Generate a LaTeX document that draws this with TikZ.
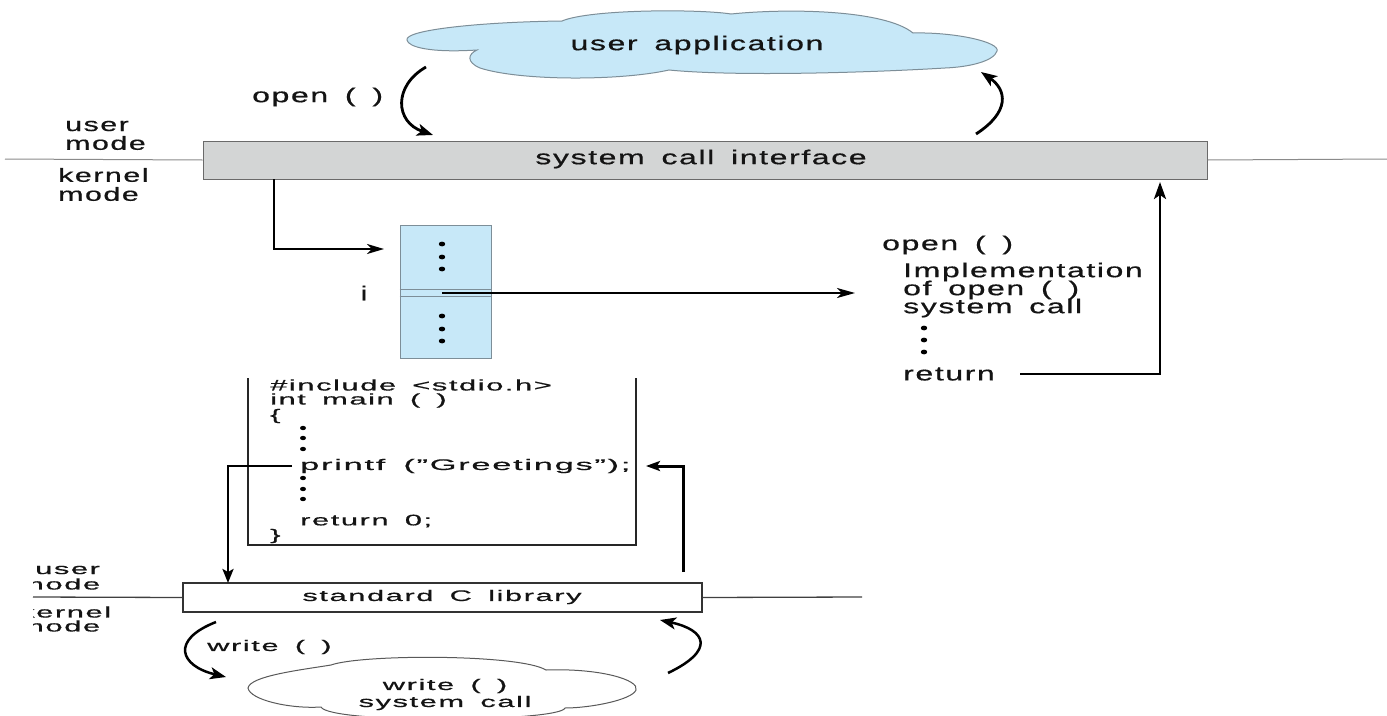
\documentclass[tikz,border=0pt]{standalone}
\usepackage{fontspec}
\usepackage{graphicx}
\setmainfont{Liberation Sans}[LetterSpace=5,WordSpace=1.6,FakeBold=0.5]
\usetikzlibrary{arrows.meta}
\newcommand{\sxa}[1]{\scalebox{1.6}[1]{#1}}
\newcommand{\sxb}[1]{\scalebox{2.02}[1]{#1}}
\definecolor{cloudblue}{HTML}{C7E8F8}
\definecolor{cloudline}{HTML}{7D8E98}
\definecolor{boxgray}{HTML}{D3D5D5}
\definecolor{boxline}{HTML}{6A6A6A}
\definecolor{sepline}{HTML}{8A8A8A}
\begin{document}
\begin{tikzpicture}[x=1pt,y=-1pt,
  ta/.style={inner sep=0pt, font=\fontsize{20}{20}\selectfont, text=black!92},
  tm/.style={inner sep=0pt, font=\fontsize{19}{19}\selectfont, text=black!92},
  tb/.style={inner sep=0pt, font=\fontsize{15.3}{15.3}\selectfont, text=black!92},
  sep/.style={draw=sepline, line width=1pt},
  mid arrow/.style={line width=2.2pt, -{Stealth[length=17pt,width=10pt,inset=5pt]}},
  thin arrow/.style={line width=1.6pt, -{Stealth[length=18pt,width=10pt,inset=5pt]}},
  curve arrow/.style={line width=2.8pt, -{Stealth[length=16pt,width=12pt,inset=4pt]}},
  dot/.style={fill=black, draw=none}]
\useasboundingbox (0,0) rectangle (1387,715);

% ---------- top part ----------
% user application cloud
\draw[fill=cloudblue, draw=cloudline, line width=1pt]
  (407,40) .. controls (404,30) and (480,22) .. (562,21)
  .. controls (590,9) and (700,9) .. (731,14)
  .. controls (790,8) and (885,10) .. (913,33)
  .. controls (955,32) and (1000,42) .. (997,51)
  .. controls (994,61) and (970,67) .. (945,68)
  .. controls (880,72) and (740,77) .. (669,70)
  .. controls (620,81) and (520,81) .. (480,68)
  .. controls (466,62) and (468,54) .. (477,50)
  .. controls (430,53) and (408,47) .. (407,40) -- cycle;
\node[ta] (ua) at (697,45) {\sxa{user application}};

% mode separator
\node[draw=boxline, fill=boxgray, line width=1pt, minimum width=1004pt, minimum height=38pt, inner sep=0pt] (sci) at (705,160) {};
\node[ta] (scit) at (701,159) {\sxa{system call interface}};
\draw[sep] (5,159) -- (sci.west);
\draw[sep] (sci.east) -- (1387,159);

\node[tm, anchor=west] (um1) at (65,126) {\sxa{user}};
\node[tm, anchor=west] (um2) at (65,143) {\sxa{mode}};
\node[tm, anchor=west] (km1) at (58,175) {\sxa{kernel}};
\node[tm, anchor=west] (km2) at (58,194) {\sxa{mode}};

% open () call arrows
\node[ta, anchor=west] (openl) at (252,97) {\sxa{open ( )}};
\coordinate (oa1) at (426,67);
\coordinate (oa2) at (433,135);
\draw[curve arrow] (oa1) .. controls (393,86) and (395,122) .. (oa2);
\coordinate (ra1) at (976,134);
\coordinate (ra2) at (981,72);
\draw[curve arrow] (ra1) .. controls (1010,112) and (1007,90) .. (ra2);

% system call table
\node[draw=cloudline, fill=cloudblue, line width=1pt, minimum width=91pt, minimum height=133pt, inner sep=0pt] (tbl) at (445.5,291.5) {};
\draw[draw=cloudline, line width=0.8pt] (tbl.west |- 0,289) -- (tbl.east |- 0,289);
\draw[draw=cloudline, line width=0.8pt] (tbl.west |- 0,296) -- (tbl.east |- 0,296);
\foreach \yy in {244,257,269,316,329,341}
  \fill[dot] (442,\yy) ellipse (3.2pt and 2.4pt);
\node[ta] (ilab) at (364,293) {\sxa{i}};

% arrow from interface into table
\coordinate (sc1) at (274,179);
\coordinate (sc2) at (274,249);
\coordinate (sc3) at (384,249);
\draw[mid arrow] (sc1) -- (sc2) -- (sc3);

% arrow from table entry to implementation
\coordinate (te) at (442,293);
\coordinate (impl) at (855,293);
\draw[thin arrow] (te) -- (impl);

% implementation text
\node[ta, anchor=west] (op2) at (882,245) {\sxa{open ( )}};
\node[ta, anchor=west] (im1) at (903,272) {\sxa{Implementation}};
\node[ta, anchor=west] (im2) at (903,290) {\sxa{of open ( )}};
\node[ta, anchor=west] (im3) at (903,308) {\sxa{system call}};
\foreach \yy in {328,340,352}
  \fill[dot] (924,\yy) ellipse (3.2pt and 2.4pt);
\node[ta, anchor=west] (ret) at (903,374) {\sxa{return}};

% return arrow
\coordinate (rt1) at (1020,374);
\coordinate (rt2) at (1160,374);
\coordinate (rt3) at (1160,182);
\draw[line width=2.8pt, -{Stealth[length=17pt,width=12pt,inset=4pt]}] (rt1) -- (rt2) -- (rt3);

% ---------- bottom part ----------
% code box (open top)
\coordinate (cb1) at (248,378);
\coordinate (cb2) at (248,545);
\coordinate (cb3) at (636,545);
\coordinate (cb4) at (636,378);
\draw[line width=1.6pt, draw=black!85] (cb1) -- (cb2) -- (cb3) -- (cb4);

\node[tb, anchor=west] (c1) at (270,385) {\sxb{\#include <stdio.h>}};
\node[tb, anchor=west] (c2) at (270,400.5) {\sxb{int main ( )}};
\node[tb, anchor=west] (c3) at (270,416) {\sxb{\{}};
\foreach \yy in {428,438,449,478,489,499}
  \fill[dot] (303,\yy) ellipse (3pt and 2.2pt);
\node[tb, anchor=west] (c4) at (300,466) {\scalebox{2.25}[1]{printf ("Greetings");}};
\node[tb, anchor=west] (c5) at (300,521) {\sxb{return 0;}};
\node[tb, anchor=west] (c6) at (270,536) {\sxb{\}}};

% standard C library
\node[draw=black!80, fill=white, line width=1.3pt, minimum width=519pt, minimum height=29pt, inner sep=0pt] (scl) at (442.5,597.5) {};
\node[tb] (sclt) at (442,597) {\sxb{standard C library}};
\draw[line width=1.3pt, draw=black!75] (33,597) -- (scl.west);
\draw[line width=1.3pt, draw=black!75] (scl.east) -- (862,597);

% printf -> library
\coordinate (pf1) at (292,466);
\coordinate (pf2) at (228,466);
\coordinate (pf3) at (228,583);
\draw[line width=2.6pt, -{Stealth[length=14pt,width=11pt,inset=3pt]}] (pf1) -- (pf2) -- (pf3);
% library -> back to printf
\coordinate (lb1) at (683,572);
\coordinate (lb2) at (683,466);
\coordinate (lb3) at (646,466);
\draw[line width=3pt, -{Stealth[length=14pt,width=10pt,inset=3pt]}] (lb1) -- (lb2) -- (lb3);

% bottom-left mode labels (cut at the left)
\begin{scope}
  \clip (33,550) rectangle (200,645);
  \node[tb, anchor=west] (bu1) at (35,570) {\sxb{user}};
  \node[tb, anchor=west] (bu2) at (18,584) {\sxb{mode}};
  \node[tb, anchor=west] (bk1) at (19,612) {\sxb{kernel}};
  \node[tb, anchor=west] (bk2) at (18,626) {\sxb{mode}};
\end{scope}

% write() arrows
\node[tb, anchor=west] (wl) at (207,647) {\sxb{write ( )}};
\coordinate (wa1) at (216,622);
\coordinate (wa2) at (226,677);
\draw[curve arrow, line width=2.5pt] (wa1) .. controls (170,640) and (180,666) .. (wa2);
\coordinate (wb1) at (668,673);
\coordinate (wb2) at (660,620);
\draw[curve arrow, line width=2.5pt] (wb1) .. controls (716,650) and (706,630) .. (wb2);

% write() system call cloud
\draw[fill=white, draw=black!65, line width=1pt]
  (248,688) .. controls (250,676) and (300,670) .. (331,665)
  .. controls (362,654) and (520,654) .. (546,670)
  .. controls (600,668) and (640,680) .. (636,690)
  .. controls (632,700) and (590,708) .. (565,708)
  .. controls (560,722) and (330,724) .. (321,707)
  .. controls (290,709) and (250,700) .. (248,688) -- cycle;
\node[tb] (wc1) at (445,686) {\sxb{write ( )}};
\node[tb] (wc2) at (445,703) {\sxb{system call}};
\end{tikzpicture}
\end{document}
